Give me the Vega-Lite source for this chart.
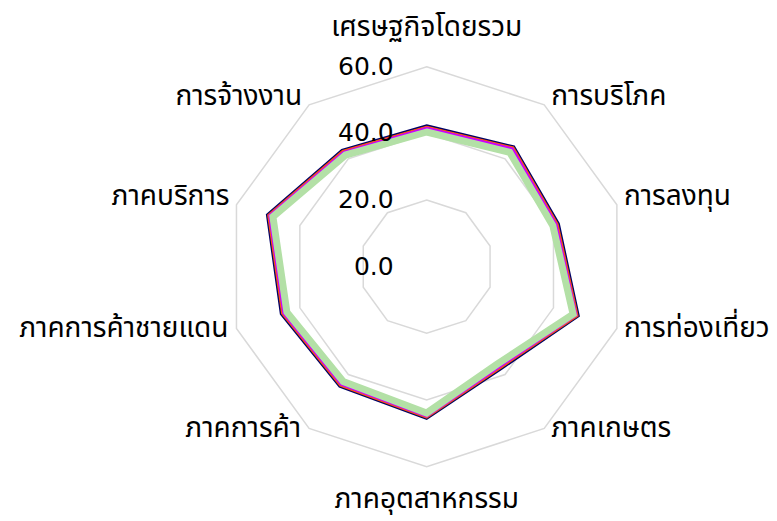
{
  "$schema": "https://vega.github.io/schema/vega-lite/v6.json",
  "width": 777,
  "height": 521,
  "padding": 0,
  "autosize": {"type": "none"},
  "background": "white",
  "config": {"view": {"stroke": null}, "text": {"font": "Noto Sans Thai", "fontSize": 28, "color": "#000000"}},
  "datasets": {
    "cats": [
      {"cat": "เศรษฐกิจโดยรวม", "k": 0, "s1": 42.4, "s2": 42.0, "s3": 41.5, "s4": 40.4},
      {"cat": "การบริโภค", "k": 1, "s1": 44.6, "s2": 44.2, "s3": 43.7, "s4": 42.4},
      {"cat": "การลงทุน", "k": 2, "s1": 41.7, "s2": 41.3, "s3": 40.8, "s4": 39.8},
      {"cat": "การท่องเที่ยว", "k": 3, "s1": 48.0, "s2": 47.6, "s3": 47.1, "s4": 46.2},
      {"cat": "ภาคเกษตร", "k": 4, "s1": 38.0, "s2": 37.6, "s3": 37.1, "s4": 36.1},
      {"cat": "ภาคอุตสาหกรรม", "k": 5, "s1": 45.7, "s2": 45.3, "s3": 44.8, "s4": 43.9},
      {"cat": "ภาคการค้า", "k": 6, "s1": 44.5, "s2": 44.1, "s3": 43.6, "s4": 42.6},
      {"cat": "ภาคการค้าชายแดน", "k": 7, "s1": 46.0, "s2": 45.6, "s3": 45.1, "s4": 44.1},
      {"cat": "ภาคบริการ", "k": 8, "s1": 50.4, "s2": 50.0, "s3": 49.5, "s4": 48.5},
      {"cat": "การจ้างงาน", "k": 9, "s1": 43.3, "s2": 42.9, "s3": 42.4, "s4": 41.4}
    ],
    "grid": [
      {"k": 0, "level": 20}, {"k": 1, "level": 20}, {"k": 2, "level": 20}, {"k": 3, "level": 20}, {"k": 4, "level": 20},
      {"k": 5, "level": 20}, {"k": 6, "level": 20}, {"k": 7, "level": 20}, {"k": 8, "level": 20}, {"k": 9, "level": 20},
      {"k": 0, "level": 40}, {"k": 1, "level": 40}, {"k": 2, "level": 40}, {"k": 3, "level": 40}, {"k": 4, "level": 40},
      {"k": 5, "level": 40}, {"k": 6, "level": 40}, {"k": 7, "level": 40}, {"k": 8, "level": 40}, {"k": 9, "level": 40},
      {"k": 0, "level": 60}, {"k": 1, "level": 60}, {"k": 2, "level": 60}, {"k": 3, "level": 60}, {"k": 4, "level": 60},
      {"k": 5, "level": 60}, {"k": 6, "level": 60}, {"k": 7, "level": 60}, {"k": 8, "level": 60}, {"k": 9, "level": 60}
    ],
    "ticks": [{"level": 0}, {"level": 20}, {"level": 40}, {"level": 60}]
  },
  "resolve": {"scale": {"x": "shared", "y": "shared"}},
  "layer": [
    {
      "data": {"name": "grid"},
      "transform": [
        {"calculate": "datum.level * sin(datum.k * PI / 5)", "as": "x"},
        {"calculate": "datum.level * cos(datum.k * PI / 5)", "as": "y"}
      ],
      "mark": {"type": "line", "interpolate": "linear-closed", "color": "#d9d9d9", "strokeWidth": 1.5},
      "encoding": {
        "x": {"field": "x", "type": "quantitative", "scale": {"domain": [-128.0, 105.1], "nice": false, "zero": false}, "axis": null},
        "y": {"field": "y", "type": "quantitative", "scale": {"domain": [-76.3, 80.0], "nice": false, "zero": false}, "axis": null},
        "detail": {"field": "level", "type": "nominal"},
        "order": {"field": "k", "type": "quantitative"}
      }
    },
    {
      "data": {"name": "cats"},
      "transform": [
        {"calculate": "datum.s1 * sin(datum.k * PI / 5)", "as": "x"},
        {"calculate": "datum.s1 * cos(datum.k * PI / 5)", "as": "y"}
      ],
      "mark": {"type": "line", "interpolate": "linear-closed", "color": "#000066", "strokeWidth": 2},
      "encoding": {
        "x": {"field": "x", "type": "quantitative"},
        "y": {"field": "y", "type": "quantitative"},
        "order": {"field": "k", "type": "quantitative"}
      }
    },
    {
      "data": {"name": "cats"},
      "transform": [
        {"calculate": "datum.s2 * sin(datum.k * PI / 5)", "as": "x"},
        {"calculate": "datum.s2 * cos(datum.k * PI / 5)", "as": "y"}
      ],
      "mark": {"type": "line", "interpolate": "linear-closed", "color": "#ff5a00", "strokeWidth": 2},
      "encoding": {
        "x": {"field": "x", "type": "quantitative"},
        "y": {"field": "y", "type": "quantitative"},
        "order": {"field": "k", "type": "quantitative"}
      }
    },
    {
      "data": {"name": "cats"},
      "transform": [
        {"calculate": "datum.s3 * sin(datum.k * PI / 5)", "as": "x"},
        {"calculate": "datum.s3 * cos(datum.k * PI / 5)", "as": "y"}
      ],
      "mark": {"type": "line", "interpolate": "linear-closed", "color": "#cc00ff", "strokeWidth": 3},
      "encoding": {
        "x": {"field": "x", "type": "quantitative"},
        "y": {"field": "y", "type": "quantitative"},
        "order": {"field": "k", "type": "quantitative"}
      }
    },
    {
      "data": {"name": "cats"},
      "transform": [
        {"calculate": "datum.s4 * sin(datum.k * PI / 5)", "as": "x"},
        {"calculate": "datum.s4 * cos(datum.k * PI / 5)", "as": "y"}
      ],
      "mark": {"type": "line", "interpolate": "linear-closed", "color": "#b3e0a6", "strokeWidth": 7},
      "encoding": {
        "x": {"field": "x", "type": "quantitative"},
        "y": {"field": "y", "type": "quantitative"},
        "order": {"field": "k", "type": "quantitative"}
      }
    },
    {
      "data": {"name": "ticks"},
      "mark": {"type": "text", "align": "right", "baseline": "middle", "dx": -33, "font": "DejaVu Sans", "fontSize": 25, "color": "#000000"},
      "encoding": {
        "x": {"datum": 0, "type": "quantitative"},
        "y": {"field": "level", "type": "quantitative"},
        "text": {"field": "level", "type": "quantitative", "format": ".1f"}
      }
    },
    {
      "data": {"name": "cats"},
      "transform": [
        {"filter": "datum.k == 0"},
        {"calculate": "60 * sin(datum.k * PI / 5)", "as": "x"},
        {"calculate": "60 * cos(datum.k * PI / 5)", "as": "y"}
      ],
      "mark": {"type": "text", "align": "center", "baseline": "alphabetic", "dy": -31},
      "encoding": {"x": {"field": "x", "type": "quantitative"}, "y": {"field": "y", "type": "quantitative"}, "text": {"field": "cat"}}
    },
    {
      "data": {"name": "cats"},
      "transform": [
        {"filter": "datum.k == 5"},
        {"calculate": "60 * sin(datum.k * PI / 5)", "as": "x"},
        {"calculate": "60 * cos(datum.k * PI / 5)", "as": "y"}
      ],
      "mark": {"type": "text", "align": "center", "baseline": "alphabetic", "dy": 41},
      "encoding": {"x": {"field": "x", "type": "quantitative"}, "y": {"field": "y", "type": "quantitative"}, "text": {"field": "cat"}}
    },
    {
      "data": {"name": "cats"},
      "transform": [
        {"filter": "datum.k == 1 || datum.k == 2"},
        {"calculate": "60 * sin(datum.k * PI / 5)", "as": "x"},
        {"calculate": "60 * cos(datum.k * PI / 5)", "as": "y"}
      ],
      "mark": {"type": "text", "align": "left", "baseline": "middle", "dx": 7, "dy": -8},
      "encoding": {"x": {"field": "x", "type": "quantitative"}, "y": {"field": "y", "type": "quantitative"}, "text": {"field": "cat"}}
    },
    {
      "data": {"name": "cats"},
      "transform": [
        {"filter": "datum.k == 3 || datum.k == 4"},
        {"calculate": "60 * sin(datum.k * PI / 5)", "as": "x"},
        {"calculate": "60 * cos(datum.k * PI / 5)", "as": "y"}
      ],
      "mark": {"type": "text", "align": "left", "baseline": "middle", "dx": 7, "dy": 1},
      "encoding": {"x": {"field": "x", "type": "quantitative"}, "y": {"field": "y", "type": "quantitative"}, "text": {"field": "cat"}}
    },
    {
      "data": {"name": "cats"},
      "transform": [
        {"filter": "datum.k == 6 || datum.k == 7"},
        {"calculate": "60 * sin(datum.k * PI / 5)", "as": "x"},
        {"calculate": "60 * cos(datum.k * PI / 5)", "as": "y"}
      ],
      "mark": {"type": "text", "align": "right", "baseline": "middle", "dx": -8, "dy": 1},
      "encoding": {"x": {"field": "x", "type": "quantitative"}, "y": {"field": "y", "type": "quantitative"}, "text": {"field": "cat"}}
    },
    {
      "data": {"name": "cats"},
      "transform": [
        {"filter": "datum.k == 8 || datum.k == 9"},
        {"calculate": "60 * sin(datum.k * PI / 5)", "as": "x"},
        {"calculate": "60 * cos(datum.k * PI / 5)", "as": "y"}
      ],
      "mark": {"type": "text", "align": "right", "baseline": "middle", "dx": -7, "dy": -8},
      "encoding": {"x": {"field": "x", "type": "quantitative"}, "y": {"field": "y", "type": "quantitative"}, "text": {"field": "cat"}}
    }
  ]
}
